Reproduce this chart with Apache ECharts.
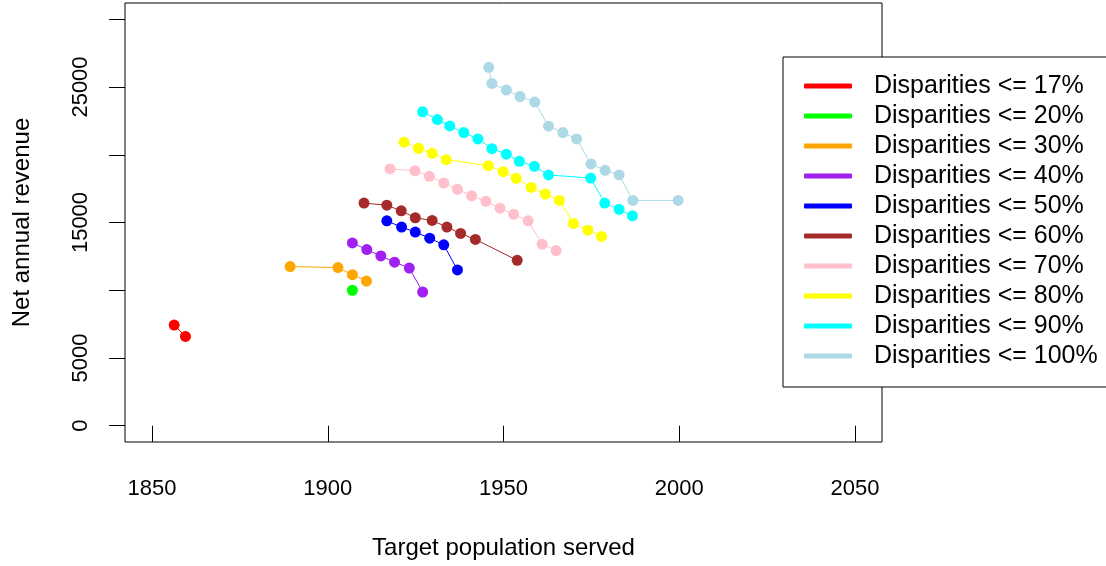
<!DOCTYPE html>
<html>
<head>
<meta charset="utf-8">
<title>Net annual revenue vs target population served</title>
<script src="https://cdn.jsdelivr.net/npm/echarts@6/dist/echarts.min.js"></script>
<style>
  html, body { margin: 0; padding: 0; background: #ffffff; }
  #chart { width: 1106px; height: 566px; }
</style>
</head>
<body>
<div id="chart"></div>
<script>
// Disparity thresholds, one line per threshold
const seriesNames = [
  'Disparities <= 17%', 'Disparities <= 20%', 'Disparities <= 30%', 'Disparities <= 40%',
  'Disparities <= 50%', 'Disparities <= 60%', 'Disparities <= 70%', 'Disparities <= 80%',
  'Disparities <= 90%', 'Disparities <= 100%'
];
const seriesColors = [
  '#FF0000', '#00FF00', '#FFA500', '#A020F0', '#0000FF',
  '#A52A2A', '#FFC0CB', '#FFFF00', '#00FFFF', '#ADD8E6'
];

// Target population served (x) and net annual revenue (y) per threshold
const pop17 = [1856.3, 1859.5];
const rev17 = [7430, 6590];
const pop20 = [1907.0];
const rev20 = [10000];
const pop30 = [1889.3, 1902.9, 1907.0, 1911.0];
const rev30 = [11750, 11670, 11150, 10680];
const pop40 = [1907.0, 1911.1, 1915.1, 1919.0, 1923.2, 1927.0];
const rev40 = [13490, 13000, 12530, 12070, 11640, 9870];
const pop50 = [1916.8, 1921.0, 1924.9, 1929.0, 1933.0, 1936.9];
const rev50 = [15120, 14660, 14290, 13840, 13350, 11500];
const pop60 = [1910.3, 1916.8, 1920.9, 1924.9, 1929.7, 1933.9, 1937.8, 1942.0, 1953.9];
const rev60 = [16430, 16280, 15860, 15350, 15150, 14660, 14190, 13750, 12210];
const pop70 = [1917.7, 1924.8, 1928.9, 1933.0, 1936.9, 1940.9, 1945.0, 1949.0, 1952.9, 1957.0, 1961.0, 1965.0];
const rev70 = [18950, 18820, 18410, 17910, 17450, 16970, 16560, 16060, 15600, 15120, 13400, 12930];
const pop80 = [1921.7, 1925.8, 1929.7, 1933.7, 1945.7, 1949.9, 1953.6, 1957.9, 1961.9, 1965.9, 1969.9, 1974.0, 1977.9];
const rev80 = [20930, 20480, 20110, 19640, 19190, 18750, 18260, 17590, 17100, 16630, 14930, 14430, 13970];
const pop90 = [1927.0, 1931.2, 1934.7, 1938.7, 1942.7, 1946.7, 1950.8, 1954.5, 1958.8, 1962.8, 1974.8, 1978.8, 1982.9, 1986.7];
const rev90 = [23170, 22600, 22130, 21640, 21170, 20450, 20040, 19520, 19150, 18510, 18280, 16430, 15970, 15490];
const pop100 = [1945.8, 1946.7, 1950.8, 1954.7, 1958.9, 1962.8, 1966.9, 1970.8, 1974.9, 1978.9, 1982.9, 1986.8, 1999.7];
const rev100 = [26450, 25260, 24780, 24300, 23890, 22110, 21640, 21170, 19320, 18850, 18510, 16630, 16630];

// Axis ticks and labels
const xTicks = [1850, 1900, 1950, 2000, 2050];
const yTicks = [0, 5000, 10000, 15000, 20000, 25000, 30000];
const yLabels = [0, 5000, 15000, 25000];

const popList = [pop17, pop20, pop30, pop40, pop50, pop60, pop70, pop80, pop90, pop100];
const revList = [rev17, rev20, rev30, rev40, rev50, rev60, rev70, rev80, rev90, rev100];

const FONT = "'Liberation Sans', Arial, sans-serif";
const plain = v => String(Math.round(v));

const series = seriesNames.map((name, i) => ({
  name: name,
  type: 'line',
  data: popList[i].map((x, j) => [x, revList[i][j]]),
  symbol: 'circle',
  symbolSize: 11,
  itemStyle: { color: seriesColors[i] },
  lineStyle: { color: seriesColors[i], width: 1 },
  emphasis: { disabled: true },
  silent: true
}));

const chart = echarts.init(document.getElementById('chart'), null, { renderer: 'canvas' });
chart.setOption({
  animation: false,
  backgroundColor: '#ffffff',
  textStyle: { fontFamily: FONT },
  grid: {
    left: 125, right: 224, top: 3, bottom: 124,
    show: true, borderColor: '#000000', borderWidth: 1, backgroundColor: 'transparent'
  },
  xAxis: {
    type: 'value',
    min: 1842.3, max: 2057.7,
    name: 'Target population served',
    nameLocation: 'middle',
    nameGap: 94,
    nameTextStyle: { fontSize: 24, color: '#000', fontFamily: FONT },
    axisLine: { show: false },
    splitLine: { show: false },
    axisTick: { show: true, length: 16, customValues: xTicks, lineStyle: { color: '#000', width: 1 } },
    axisLabel: { customValues: xTicks, formatter: plain, fontSize: 22, color: '#000', margin: 36, fontFamily: FONT }
  },
  yAxis: {
    type: 'value',
    min: -1200, max: 31200,
    name: 'Net annual revenue',
    nameLocation: 'middle',
    nameGap: 91,
    nameRotate: 90,
    nameTextStyle: { fontSize: 24, color: '#000', fontFamily: FONT },
    axisLine: { show: false },
    splitLine: { show: false },
    axisTick: { show: true, length: 16, customValues: yTicks, lineStyle: { color: '#000', width: 1 } },
    axisLabel: { customValues: yLabels, formatter: plain, rotate: 90, fontSize: 22, color: '#000', margin: 33, fontFamily: FONT }
  },
  legend: {
    orient: 'vertical',
    left: 783, top: 57,
    padding: [14, 60, 16, 21],
    itemGap: 0,
    itemWidth: 48, itemHeight: 5,
    icon: 'roundRect',
    backgroundColor: '#ffffff',
    borderColor: '#000000', borderWidth: 1,
    selectedMode: false,
    textStyle: { fontSize: 25, color: '#000', lineHeight: 30, padding: [0, 0, 0, 17], fontFamily: FONT },
    data: seriesNames
  },
  series: series
});
</script>
</body>
</html>
